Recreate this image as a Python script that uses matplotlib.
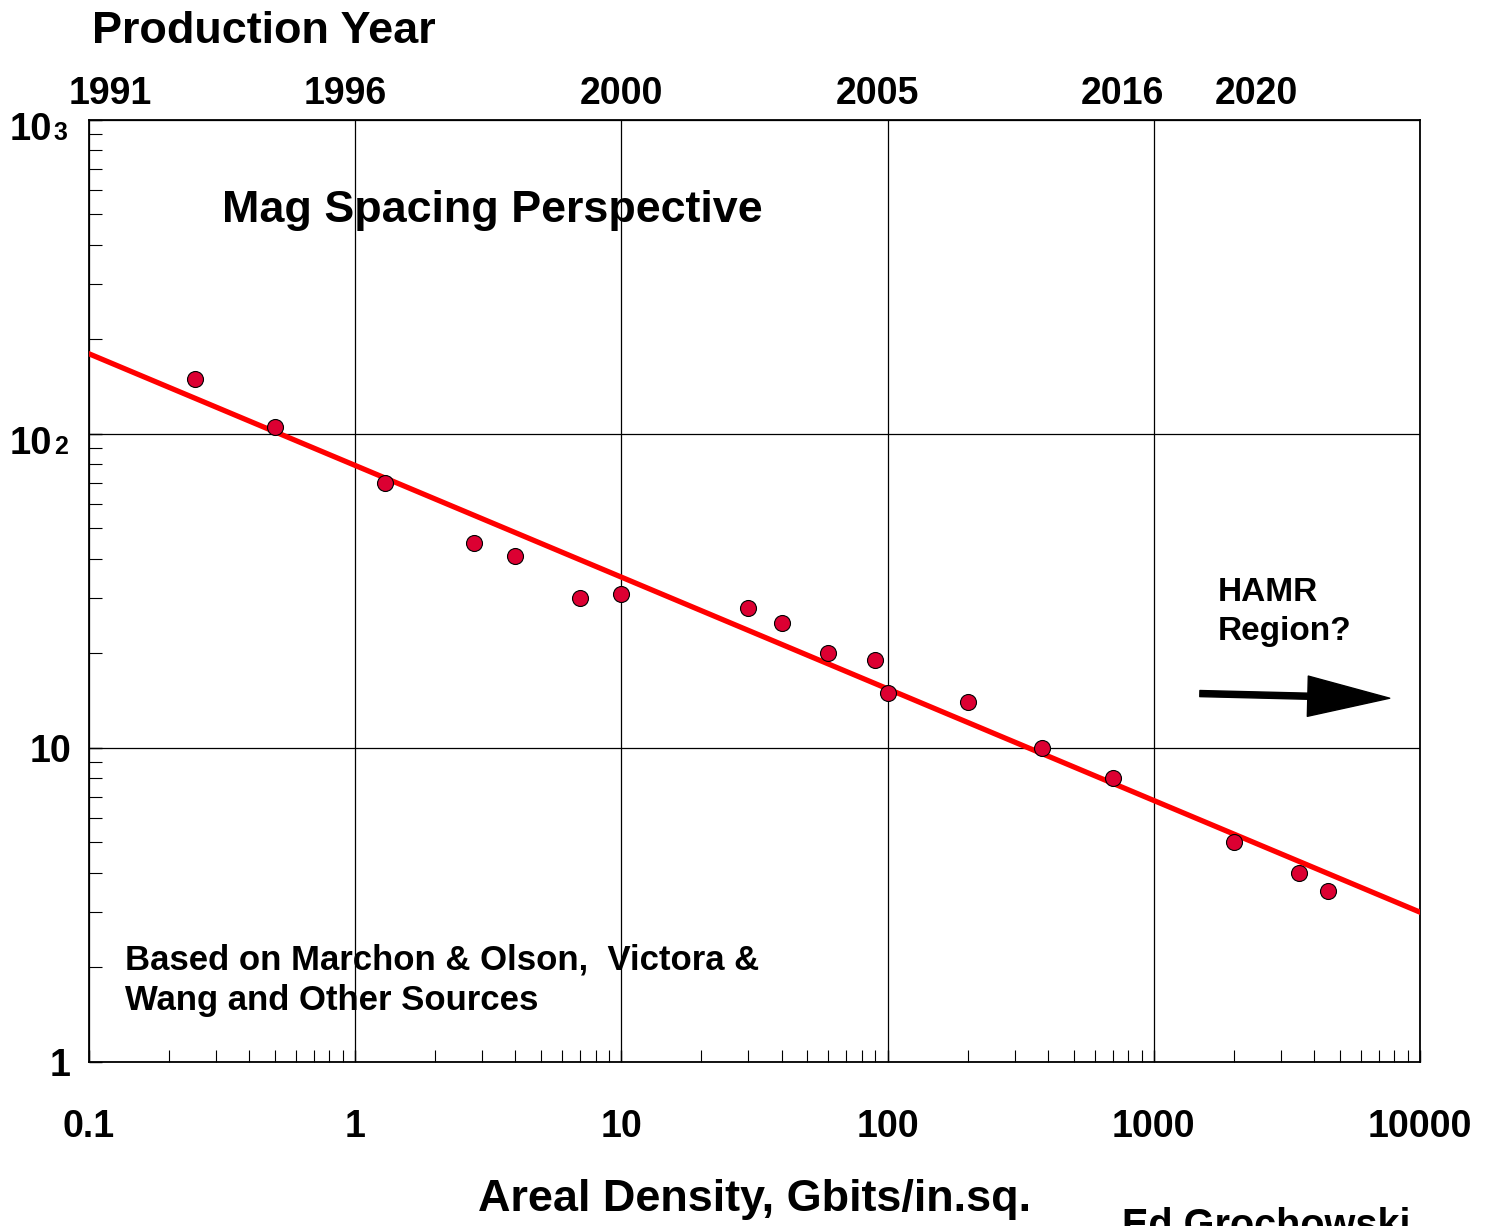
import matplotlib
matplotlib.use("Agg")
import matplotlib.pyplot as plt
from matplotlib.ticker import LogLocator, NullFormatter, FixedLocator, FixedFormatter

plt.rcParams['font.family'] = ['Liberation Sans', 'DejaVu Sans']
plt.rcParams['font.weight'] = 'bold'

# Data
density = [0.25, 0.5, 1.3, 2.8, 4.0, 7.0, 10, 30, 40, 60, 90, 100, 200, 380, 700, 2000, 3500, 4500]
spacing = [150, 105, 70, 45, 41, 30, 31, 28, 25, 20, 19, 15, 14, 10, 8.0, 5.0, 4.0, 3.5]

# trend line end points
fit_x = [0.1, 10000]
fit_y = [180, 3.0]

# production year labels on the top axis
year_pos = [0.12, 0.92, 10, 92, 760, 2420]
year_labels = ["1991", "1996", "2000", "2005", "2016", "2020"]

x_ticks = [0.1, 1, 10, 100, 1000, 10000]
x_labels = ["0.1", "1", "10", "100", "1000", "10000"]
y_ticks = [1, 10, 100, 1000]

red_dot = "#DC0032"
red_line = "#FF0000"

fig = plt.figure(figsize=(14.95, 12.26), dpi=100)
ax = fig.add_axes([0.0595, 0.1338, 0.8903, 0.7684])

ax.set_xscale("log")
ax.set_yscale("log")
ax.set_xlim(0.1, 10000)
ax.set_ylim(1, 1000)

ax.plot(fit_x, fit_y, color=red_line, lw=3.8, zorder=3)
ax.plot(density, spacing, "o", ms=11.5, mfc=red_dot, mec="black", mew=0.8, zorder=4)

# grid and ticks
ax.grid(True, which="major", color="black", lw=0.9)
ax.set_xticks(x_ticks)
ax.set_xticklabels(x_labels)
ax.set_yticks(y_ticks)
ax.set_yticklabels(["1", "10", "", ""])
ax.xaxis.set_minor_locator(LogLocator(base=10, subs=range(2, 10), numticks=20))
ax.yaxis.set_minor_locator(LogLocator(base=10, subs=range(2, 10), numticks=20))
ax.xaxis.set_minor_formatter(NullFormatter())
ax.yaxis.set_minor_formatter(NullFormatter())
ax.tick_params(which="both", direction="in", top=False, right=False, color="black")
ax.tick_params(which="major", length=9, width=1)
ax.tick_params(which="minor", length=9, width=0.8)
ax.tick_params(axis="x", which="major", labelsize=27, pad=34)
ax.tick_params(axis="y", which="major", labelsize=27, pad=13)
for sp in ax.spines.values():
    sp.set_linewidth(1.3)

# 10^2 and 10^3 labels drawn as "10" followed by a small digit on the same baseline
ytr = ax.get_yaxis_transform()
for val, digit in [(1000, "3"), (100, "2")]:
    ax.text(-0.0278, val * 0.866, "10", transform=ytr, ha="right", va="baseline",
            fontsize=27.5, fontweight="bold")
    ax.text(-0.0263, val * 0.866, digit, transform=ytr, ha="left", va="baseline",
            fontsize=18, fontweight="bold")

# top axis with production years
top = ax.twiny()
top.set_xscale("log")
top.set_xlim(ax.get_xlim())
top.xaxis.set_major_locator(FixedLocator(year_pos))
top.xaxis.set_major_formatter(FixedFormatter(year_labels))
top.xaxis.set_minor_locator(FixedLocator([]))
top.tick_params(axis="x", which="both", length=0, labelsize=27, pad=6)
for sp in top.spines.values():
    sp.set_visible(False)

# annotations
ax.text(0.0999, 0.9035, "Mag Spacing Perspective", transform=ax.transAxes,
        fontsize=32.3, fontweight="bold", va="center", ha="left")
ax.text(0.848, 0.4777, "HAMR\nRegion?", transform=ax.transAxes,
        fontsize=24, fontweight="bold", va="center", ha="left", linespacing=1.35)
ax.text(0.027, 0.087, "Based on Marchon & Olson,  Victora &\nWang and Other Sources",
        transform=ax.transAxes, fontsize=25, fontweight="bold",
        va="center", ha="left", linespacing=1.3)
ax.annotate("", xy=(7700, 14.4), xytext=(1490, 14.9),
            arrowprops=dict(arrowstyle="simple,head_length=2.95,head_width=1.45,tail_width=0.22",
                            mutation_scale=20, fc="black", ec="black",
                            shrinkA=0, shrinkB=0))

fig.text(0.0615, 0.974, "Production Year", fontsize=32.4, fontweight="bold",
         ha="left", va="center")
fig.text(0.505, 0.0215, "Areal Density, Gbits/in.sq.", fontsize=32.4,
         fontweight="bold", ha="center", va="center")
fig.text(0.7505, 0.0155, "Ed Grochowski", fontsize=28.5, fontweight="bold",
         ha="left", va="top")

fig.savefig("out.png", dpi=100)
